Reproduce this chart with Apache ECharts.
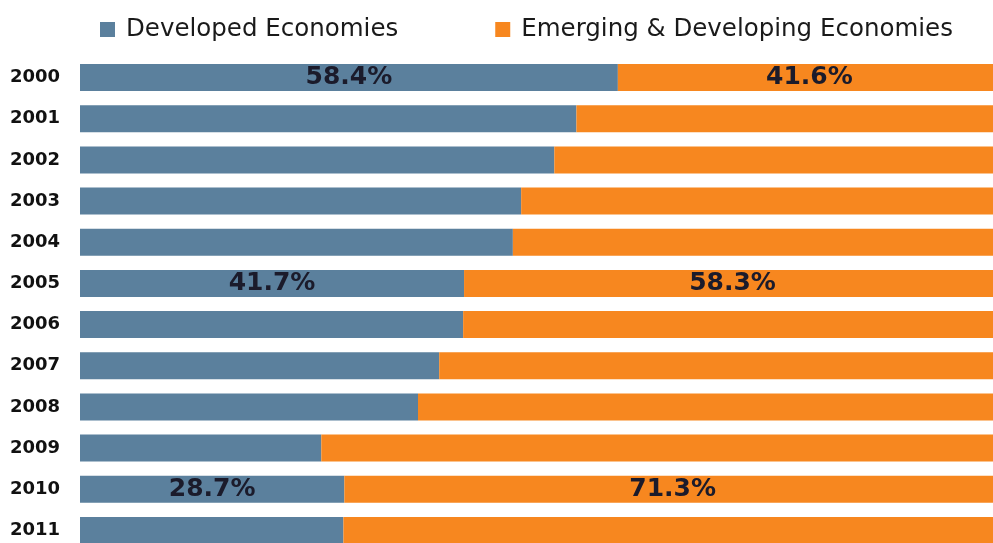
<!DOCTYPE html>
<html>
<head>
<meta charset="utf-8">
<script src="https://cdn.jsdelivr.net/npm/echarts@6/dist/echarts.min.js"></script>
<style>
  html, body { margin: 0; padding: 0; background: #ffffff; }
  #chart { width: 993px; height: 543px; }
</style>
</head>
<body>
<div id="chart"></div>
<script>
// Share of world GDP growth by economy group, percent of total
const years = ['2000', '2001', '2002', '2003', '2004', '2005', '2006', '2007', '2008', '2009', '2010', '2011'];
const developed = [58.4, 53.9, 51.5, 47.9, 47.0, 41.7, 41.6, 39.0, 36.7, 26.2, 28.7, 28.6];
const emerging  = [41.6, 46.1, 48.5, 52.1, 53.0, 58.3, 58.4, 61.0, 63.3, 73.8, 71.3, 71.4];
const seriesNames = ['Developed Economies', 'Emerging & Developing Economies'];
const labelledYears = ['2000', '2005', '2010'];

const FONT = '"DejaVu Sans", Verdana, sans-serif';

const valueLabel = {
  show: true,
  position: 'inside',
  fontFamily: FONT,
  fontWeight: 'bold',
  fontSize: 25,
  color: '#1b1b2b',
  formatter: p => labelledYears.includes(p.name) ? p.value.toFixed(1) + '%' : ''
};

const chart = echarts.init(document.getElementById('chart'), null, { renderer: 'canvas' });
chart.setOption({
  backgroundColor: '#ffffff',
  animation: false,
  legend: {
    data: seriesNames,
    left: 100,
    top: 17,
    padding: 0,
    itemWidth: 15,
    itemHeight: 15,
    itemGap: 97,
    icon: 'rect',
    textStyle: { fontFamily: FONT, fontSize: 24.5, color: '#1a1a1a', padding: [0, 0, 0, 6] }
  },
  // the plot runs a little past the right and bottom edges of the page
  grid: { left: 80, top: 57, width: 921, height: 494, containLabel: false, outerBoundsMode: 'none' },
  xAxis: {
    type: 'value',
    min: 0,
    max: 100,
    show: false
  },
  yAxis: {
    type: 'category',
    data: years,
    inverse: true,
    axisLine: { show: false },
    axisTick: { show: false },
    splitLine: { show: false },
    axisLabel: {
      margin: 20,
      fontFamily: FONT,
      fontWeight: 'bold',
      fontSize: 18,
      color: '#111111'
    }
  },
  series: [
    {
      name: seriesNames[0],
      type: 'bar',
      stack: 'share',
      barWidth: 27,
      data: developed,
      itemStyle: { color: '#5b809d' },
      label: valueLabel
    },
    {
      name: seriesNames[1],
      type: 'bar',
      stack: 'share',
      barWidth: 27,
      data: emerging,
      itemStyle: { color: '#f7871f' },
      label: valueLabel
    }
  ]
});
</script>
</body>
</html>
